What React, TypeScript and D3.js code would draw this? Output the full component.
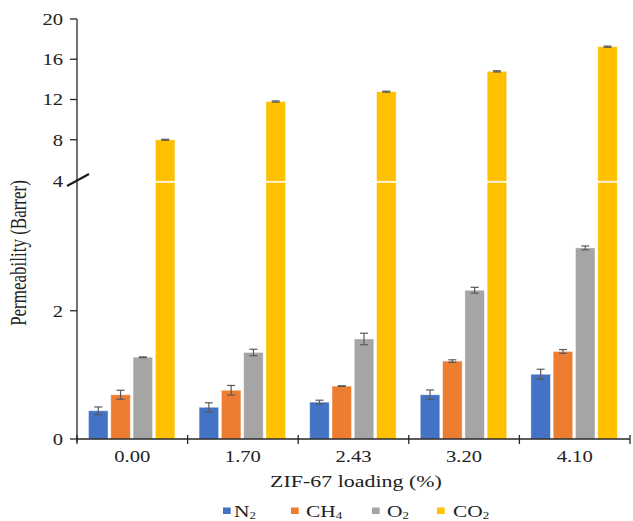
import React from "react";
import * as d3 from "d3";

// ZIF-67 loading levels (%)
const categories = ["0.00", "1.70", "2.43", "3.20", "4.10"];

// Gas series: label base + subscript, fill colour
const gasBase = ["N", "CH", "O", "CO"];
const gasSub = ["2", "4", "2", "2"];
const gasColors = ["#4472C4", "#ED7D31", "#A5A5A5", "#FFC000"];

// Permeability (Barrer) and standard deviations
const n2 = [0.44, 0.495, 0.575, 0.69, 1.01];
const n2Err = [0.06, 0.07, 0.03, 0.075, 0.078];
const ch4 = [0.69, 0.76, 0.825, 1.215, 1.365];
const ch4Err = [0.07, 0.075, 0.005, 0.02, 0.03];
const o2 = [1.275, 1.35, 1.56, 2.32, 2.98];
const o2Err = [0.005, 0.05, 0.09, 0.045, 0.03];
const co2 = [8.0, 11.8, 12.78, 14.8, 17.25];
const co2Err = [0.05, 0.06, 0.05, 0.06, 0.06];

// Broken y axis: lower segment 0–4, upper segment 4–20
const lowerTicks = [0, 2];
const upperTicks = [8, 12, 16, 20];
const breakValue = 4;

const W = 633;
const H = 521;
const FONT = "'Liberation Serif', 'Times New Roman', serif";

const values = [n2, ch4, o2, co2];
const errors = [n2Err, ch4Err, o2Err, co2Err];

type STextProps = {
  x: number;
  y: number;
  sx?: number;
  size: number;
  anchor?: "start" | "middle" | "end";
  children: React.ReactNode;
};

function SText({ x, y, sx = 1, size, anchor = "start", children }: STextProps) {
  return (
    <text
      transform={`translate(${x},${y}) scale(${sx},1)`}
      textAnchor={anchor}
      fontSize={size}
      fontFamily={FONT}
      fill="#222"
    >
      {children}
    </text>
  );
}

export default function App() {
  const axisX = 77;
  const axisRight = 630;
  const baseY = 439;

  const x0 = d3.scaleBand<string>().domain(categories).range([axisX, axisRight]).padding(0);
  const x1 = d3
    .scaleBand<string>()
    .domain(gasBase)
    .range([11.5, 97.9])
    .paddingInner(0.125)
    .paddingOuter(0);

  const yLow = d3.scaleLinear().domain([0, breakValue]).range([baseY, 182.5]);
  const yHigh = d3.scaleLinear().domain([breakValue, 20]).range([180, 19]);
  const upperBottom = 181.2;

  const yOf = (v: number) => (v <= breakValue ? yLow(v) : yHigh(v));

  const bars: React.ReactNode[] = [];
  const errs: React.ReactNode[] = [];
  categories.forEach((cat, ci) => {
    gasBase.forEach((g, si) => {
      const v = values[si][ci];
      const e = errors[si][ci];
      const bx = (x0(cat) as number) + (x1(g) as number);
      const bw = x1.bandwidth();
      if (v <= breakValue) {
        bars.push(
          <rect key={`b${ci}-${si}`} x={bx} y={yLow(v)} width={bw} height={baseY - yLow(v)}
            fill={gasColors[si]} stroke="#fff" strokeOpacity={0.5} strokeWidth={0.8} />
        );
      } else {
        bars.push(
          <rect key={`bl${ci}-${si}`} x={bx} y={yLow(breakValue)} width={bw}
            height={baseY - yLow(breakValue)} fill={gasColors[si]} stroke="#fff"
            strokeOpacity={0.5} strokeWidth={0.8} />
        );
        bars.push(
          <rect key={`bu${ci}-${si}`} x={bx} y={yHigh(v)} width={bw}
            height={upperBottom - yHigh(v)} fill={gasColors[si]} stroke="#fff"
            strokeOpacity={0.5} strokeWidth={0.8} />
        );
      }
      const cx = bx + bw / 2;
      const yt = yOf(v + e);
      const yb = yOf(v - e);
      errs.push(
        <g key={`e${ci}-${si}`} stroke="#595959" strokeWidth={1.2}>
          <line x1={cx} x2={cx} y1={yt} y2={yb} />
          <line x1={cx - 4} x2={cx + 4} y1={yt} y2={yt} />
          <line x1={cx - 4} x2={cx + 4} y1={yb} y2={yb} />
        </g>
      );
    });
  });

  const boundaries = [...categories.map((c) => x0(c) as number), axisRight];

  const legendSquares = [223, 291, 372, 437];
  const legendTexts = [234, 306, 387, 453];

  return (
    <svg width={W} height={H} style={{ position: "absolute", left: 0, top: 0, background: "#fff" }}>
      <rect width={W} height={H} fill="#fff" />
      {bars}
      {errs}

      {/* x axis */}
      <line x1={axisX} x2={axisRight} y1={baseY} y2={baseY} stroke="#262626" strokeWidth={1.3} />
      {boundaries.map((bx, i) => (
        <line key={`xt${i}`} x1={bx} x2={bx} y1={baseY - 4} y2={baseY + 5} stroke="#262626" strokeWidth={1.3} />
      ))}
      {categories.map((c) => (
        <SText key={`xl${c}`} x={(x0(c) as number) + x0.bandwidth() / 2} y={462} size={16.5} sx={1.25} anchor="middle">
          {c}
        </SText>
      ))}

      {/* y axis */}
      <line x1={axisX} x2={axisX} y1={19} y2={baseY + 3} stroke="#262626" strokeWidth={1.3} />
      {lowerTicks.map((t) => (
        <g key={`yl${t}`}>
          <line x1={axisX - 7} x2={axisX} y1={yLow(t)} y2={yLow(t)} stroke="#262626" strokeWidth={1.3} />
          <SText x={63} y={yLow(t) + 5.8} size={16.5} sx={1.25} anchor="end">{t}</SText>
        </g>
      ))}
      {upperTicks.map((t) => (
        <g key={`yu${t}`}>
          <line x1={axisX - 7} x2={axisX} y1={yHigh(t)} y2={yHigh(t)} stroke="#262626" strokeWidth={1.3} />
          <SText x={63} y={yHigh(t) + 5.8} size={16.5} sx={1.25} anchor="end">{t}</SText>
        </g>
      ))}
      <SText x={63} y={181 + 5.8} size={16.5} sx={1.25} anchor="end">{breakValue}</SText>
      {/* axis break mark */}
      <line x1={67} y1={186} x2={89} y2={174} stroke="#1a1a1a" strokeWidth={2} />

      {/* axis titles */}
      <text
        transform={`translate(26,253) rotate(-90) scale(1,1.3)`}
        textAnchor="middle"
        fontSize={17}
        fontFamily={FONT}
        fill="#222"
      >
        Permeability (Barrer)
      </text>
      <SText x={356} y={487} size={16.5} sx={1.33} anchor="middle">ZIF-67 loading (%)</SText>

      {/* legend */}
      {gasBase.map((g, i) => (
        <g key={`lg${g}`}>
          <rect x={legendSquares[i]} y={507.5} width={7.7} height={6.5} fill={gasColors[i]} />
          <SText x={legendTexts[i]} y={517} size={16.5} sx={1.3}>
            {g}
            <tspan fontSize={10} dy={1.5}>{gasSub[i]}</tspan>
          </SText>
        </g>
      ))}
    </svg>
  );
}
